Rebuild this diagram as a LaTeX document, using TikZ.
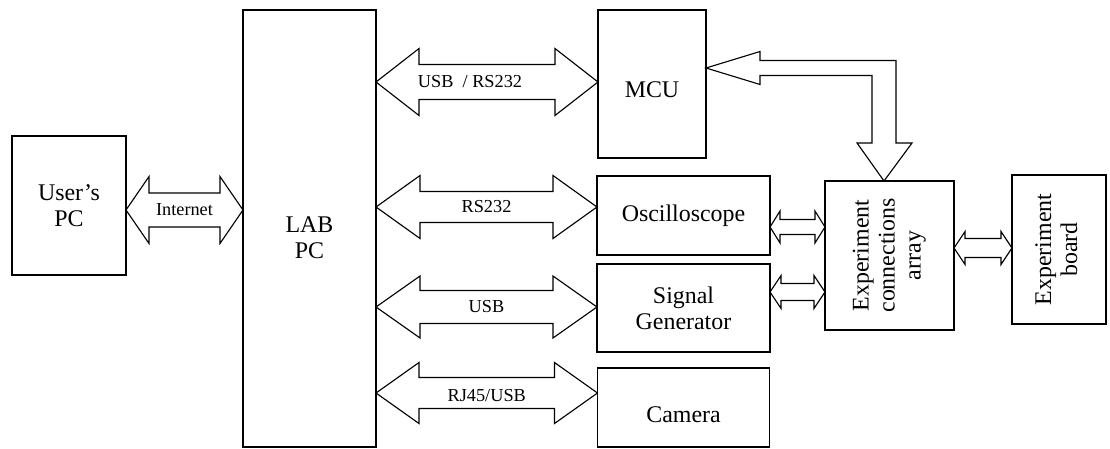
\documentclass[tikz,border=0pt]{standalone}
\usepackage{fontspec}
\setmainfont{Liberation Serif}
\usepackage{tikz}
\usetikzlibrary{calc}
\tikzset{mybox/.style={draw, line width=0.9pt, inner sep=0pt, outer sep=0pt, align=center, font=\fontsize{17}{18.5}\selectfont}}
\tikzset{myarrow/.style={draw, line width=0.8pt, fill=white, line join=miter}}
\tikzset{mylabel/.style={font=\fontsize{13}{15}\selectfont, inner sep=0pt}}

% block arrow between two coordinates: [label opts]{left}{right}{head half}{shaft half}{head length}{label}
\newcommand{\fatarrow}[7][]{%
\draw[myarrow] (#2) -- ($(#2)+(#6,-#4)$) -- ($(#2)+(#6,-#5)$) -- ($(#3)+(-#6,-#5)$) -- ($(#3)+(-#6,-#4)$) -- (#3)
  -- ($(#3)+(-#6,#4)$) -- ($(#3)+(-#6,#5)$) -- ($(#2)+(#6,#5)$) -- ($(#2)+(#6,#4)$) -- cycle;
\node[mylabel, #1] at ($(#2)!0.5!(#3)$) {#7};
}
% lowered text, extents unchanged
\newcommand{\lowtext}[2]{\raisebox{-#1}[\height][\depth]{#2}}

\begin{document}
\begin{tikzpicture}[x=0.025cm, y=-0.025cm]
\useasboundingbox (0,0) rectangle (1110,448);

\node[mybox, minimum width=2.85cm, minimum height=3.475cm] (user) at (69,205.5) {User's\\PC};
\node[mybox, minimum width=3.325cm, minimum height=10.925cm] (lab) at (309.5,228.5)
  {\lowtext{0.3cm}{\begin{tabular}{@{}c@{}}LAB\\PC\end{tabular}}};

\node[mybox, minimum width=2.7cm, minimum height=3.7cm] (mcu) at (652,84) {\lowtext{0.15cm}{MCU}};
\node[mybox, minimum width=4.325cm, minimum height=1.975cm] (osc) at (683.5,215.5) {Oscilloscope};
\node[mybox, minimum width=4.325cm, minimum height=2.2cm] (sig) at (683.5,308) {Signal\\Generator};
\node[mybox, minimum width=4.3cm, minimum height=1.975cm] (cam) at (683.5,407.5) {\lowtext{0.175cm}{Camera}};

\node[mybox, minimum width=3.225cm, minimum height=3.725cm] (arr) at (889.5,255.5)
  {\rotatebox{90}{\begin{tabular}{@{}c@{}}Experiment\\connections\\array\end{tabular}}};
\node[mybox, minimum width=2.35cm, minimum height=3.725cm] (board) at (1059,249.5)
  {\rotatebox{90}{\begin{tabular}{@{}c@{}}Experiment\\board\end{tabular}}};

% arrow ends
\coordinate (inetL) at (user.east |- 0,210);
\coordinate (inetR) at (lab.west |- 0,210);
\coordinate (mcuL) at (lab.east |- 0,82);
\coordinate (mcuR) at (mcu.west |- 0,82);
\coordinate (oscL) at (lab.east |- 0,207);
\coordinate (oscR) at (osc.west |- 0,207);
\coordinate (sigL) at (lab.east |- 0,307);
\coordinate (sigR) at (sig.west |- 0,307);
\coordinate (camL) at (lab.east |- 0,393);
\coordinate (camR) at (cam.west |- 0,393);
\coordinate (oaL) at (osc.east |- 0,227);
\coordinate (oaR) at (arr.west |- 0,227);
\coordinate (saL) at (sig.east |- 0,292);
\coordinate (saR) at (arr.west |- 0,292);
\coordinate (abL) at (arr.east |- 0,248);
\coordinate (abR) at (board.west |- 0,248);

\fatarrow{inetL}{inetR}{33.5}{17}{23}{Internet}
\fatarrow[xshift=-0.425cm]{mcuL}{mcuR}{33.5}{17.5}{43}{USB~~/ RS232}
\fatarrow{oscL}{oscR}{31.5}{15.5}{44}{RS232}
\fatarrow{sigL}{sigR}{31}{16.5}{44}{USB}
\fatarrow[yshift=-0.075cm]{camL}{camR}{30.5}{15.5}{43}{RJ45/USB}
\fatarrow{oaL}{oaR}{16}{7.5}{10}{}
\fatarrow{saL}{saR}{16.5}{8.5}{11}{}
\fatarrow{abL}{abR}{16.5}{9.5}{11}{}

% bent arrow MCU -- array
\coordinate (m) at (mcu.east |- 0,68);
\coordinate (e) at (arr.north -| 884,0);
\coordinate (c) at (e |- m);
\draw[myarrow] (m) -- ($(m)+(54,-16.5)$) -- ($(m)+(54,-7.5)$) -- ($(c)+(12,-7.5)$) -- ($(e)+(12,-38)$)
  -- ($(e)+(28,-38)$) -- (e) -- ($(e)+(-27,-38)$) -- ($(e)+(-12,-38)$) -- ($(c)+(-12,7.5)$)
  -- ($(m)+(54,7.5)$) -- ($(m)+(54,16.5)$) -- cycle;

\end{tikzpicture}
\end{document}
